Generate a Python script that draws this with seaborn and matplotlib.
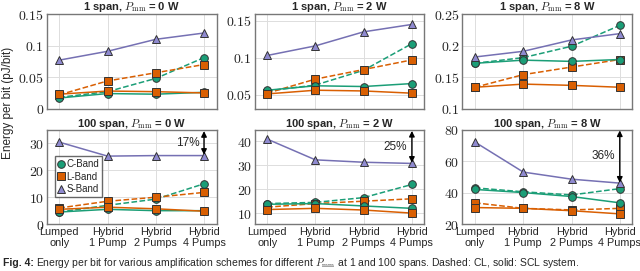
import pandas as pd
import matplotlib.pyplot as plt
import seaborn as sns
from matplotlib.ticker import FuncFormatter

schemes = ["Lumped\nonly", "Hybrid\n1 Pump", "Hybrid\n2 Pumps", "Hybrid\n4 Pumps"]
bands = ["C-Band", "L-Band", "S-Band"]

# 1 span, Pmm = 0 W
c_cl_1_0 = [0.018, 0.027, 0.048, 0.081]
l_cl_1_0 = [0.022, 0.044, 0.057, 0.070]
c_scl_1_0 = [0.017, 0.024, 0.023, 0.026]
l_scl_1_0 = [0.023, 0.028, 0.027, 0.025]
s_scl_1_0 = [0.077, 0.091, 0.110, 0.120]

# 1 span, Pmm = 2 W
c_cl_1_2 = [0.055, 0.063, 0.083, 0.119]
l_cl_1_2 = [0.052, 0.071, 0.084, 0.097]
c_scl_1_2 = [0.056, 0.062, 0.061, 0.065]
l_scl_1_2 = [0.051, 0.056, 0.055, 0.052]
s_scl_1_2 = [0.103, 0.116, 0.135, 0.145]

# 1 span, Pmm = 8 W
c_cl_1_8 = [0.172, 0.181, 0.199, 0.232]
l_cl_1_8 = [0.134, 0.154, 0.166, 0.178]
c_scl_1_8 = [0.172, 0.177, 0.175, 0.178]
l_scl_1_8 = [0.134, 0.139, 0.137, 0.134]
s_scl_1_8 = [0.182, 0.191, 0.209, 0.219]

# 100 span, Pmm = 0 W
c_cl_100_0 = [4.5, 7.0, 9.3, 15.0]
l_cl_100_0 = [6.0, 8.5, 10.0, 11.8]
c_scl_100_0 = [4.5, 5.5, 5.0, 5.0]
l_scl_100_0 = [5.5, 6.3, 5.7, 4.8]
s_scl_100_0 = [30.5, 25.3, 25.5, 25.5]

# 100 span, Pmm = 2 W
c_cl_100_2 = [14.0, 14.5, 16.5, 22.0]
l_cl_100_2 = [12.5, 14.0, 15.0, 16.0]
c_scl_100_2 = [13.7, 14.0, 13.0, 12.0]
l_scl_100_2 = [11.5, 12.0, 11.3, 10.0]
s_scl_100_2 = [41.0, 32.3, 31.3, 30.8]

# 100 span, Pmm = 8 W
c_cl_100_8 = [43.0, 40.5, 38.5, 42.5]
l_cl_100_8 = [33.5, 30.0, 29.0, 30.0]
c_scl_100_8 = [42.0, 40.0, 37.5, 33.5]
l_scl_100_8 = [30.5, 30.0, 28.5, 26.5]
s_scl_100_8 = [72.0, 53.0, 48.5, 46.0]

savings = ["17%", "25%", "36%"]

panels = [
    ("1 span", "0 W", c_cl_1_0, l_cl_1_0, c_scl_1_0, l_scl_1_0, s_scl_1_0),
    ("1 span", "2 W", c_cl_1_2, l_cl_1_2, c_scl_1_2, l_scl_1_2, s_scl_1_2),
    ("1 span", "8 W", c_cl_1_8, l_cl_1_8, c_scl_1_8, l_scl_1_8, s_scl_1_8),
    ("100 span", "0 W", c_cl_100_0, l_cl_100_0, c_scl_100_0, l_scl_100_0, s_scl_100_0),
    ("100 span", "2 W", c_cl_100_2, l_cl_100_2, c_scl_100_2, l_scl_100_2, s_scl_100_2),
    ("100 span", "8 W", c_cl_100_8, l_cl_100_8, c_scl_100_8, l_scl_100_8, s_scl_100_8),
]

ylims = [(0, 0.15), (0.031, 0.159), (0.1, 0.25), (0, 35.2), (5.4, 45), (20, 80)]
yticks = [[0, 0.05, 0.1, 0.15], [0.05, 0.1, 0.15], [0.1, 0.15, 0.2, 0.25],
          [0, 10, 20, 30], [10, 20, 30, 40], [20, 40, 60, 80]]
arrow_tops = [34.6, 44.4, 79.4]
label_y = [30.0, 37.8, 63.0]

colors = {"C-Band": "#1b9e77", "L-Band": "#d95f02", "S-Band": "#7570b3"}
fills = {"C-Band": "#1b9e77", "L-Band": "#d95f02", "S-Band": "#8f8ad0"}
markers = {"C-Band": "o", "L-Band": "s", "S-Band": "^"}

sns.set_style("white")
plt.rcParams["font.family"] = ["Liberation Sans", "DejaVu Sans"]
plt.rcParams["mathtext.fontset"] = "cm"

fig, axes = plt.subplots(2, 3, figsize=(6.4, 2.71), dpi=100)
fig.subplots_adjust(left=0.073, right=0.988, top=0.948, bottom=0.173,
                    wspace=0.224, hspace=0.22)

for i, (ax, p) in enumerate(zip(axes.flat, panels)):
    span, pmm, c_cl, l_cl, c_scl, l_scl, s_scl = p
    rows = []
    for band, system, vals in [("C-Band", "CL", c_cl), ("L-Band", "CL", l_cl),
                               ("C-Band", "SCL", c_scl), ("L-Band", "SCL", l_scl),
                               ("S-Band", "SCL", s_scl)]:
        for k, v in enumerate(vals):
            rows.append({"x": k, "y": v, "band": band, "system": system})
    df = pd.DataFrame(rows)
    for (band, system), sub in df.groupby(["band", "system"], sort=False):
        sns.lineplot(data=sub, x="x", y="y", ax=ax, color=colors[band],
                     linestyle="--" if system == "CL" else "-", lw=1.1,
                     marker=markers[band], markersize=5.5 if band != "S-Band" else 6,
                     markerfacecolor=fills[band], markeredgecolor="#333333",
                     markeredgewidth=0.7, label=band if system == "SCL" else None,
                     legend=False, zorder=3)
    ax.set_xlim(-0.26, 3.26)
    ax.set_ylim(*ylims[i])
    ax.set_yticks(yticks[i])
    ax.yaxis.set_major_formatter(FuncFormatter(lambda v, pos: f"${v:g}$"))
    ax.set_xticks(range(len(schemes)))
    if i >= 3:
        ax.set_xticklabels(schemes, fontsize=7.8, linespacing=1.1)
    else:
        ax.set_xticklabels([])
    ax.tick_params(axis="y", labelsize=10, pad=2, length=0)
    ax.tick_params(axis="x", pad=2, length=0)
    ax.grid(True, color="#dddddd", lw=0.7)
    for s in ax.spines.values():
        s.set_color("#777777")
        s.set_linewidth(1.0)
    ax.set_xlabel("")
    ax.set_ylabel("")
    ax.set_title(span + r", $P_{\mathrm{mm}}$ = " + pmm, fontsize=8,
                 fontweight="bold", pad=1.5)
    if i >= 3:
        j = i - 3
        ax.annotate("", xy=(3, arrow_tops[j]), xytext=(3, s_scl[-1] + 0.3),
                    arrowprops=dict(arrowstyle="<|-|>", color="black", lw=1.0,
                                    mutation_scale=8, shrinkA=0, shrinkB=0))
        ax.text(2.9, label_y[j], savings[j], ha="right", va="center", fontsize=8.5)

handles, labels = axes[1, 0].get_legend_handles_labels()
axes[1, 0].legend(handles, labels, loc="center left", bbox_to_anchor=(0.02, 0.5),
                  fontsize=7, frameon=True, fancybox=False, edgecolor="#444444",
                  handlelength=0.6, handletextpad=0.3, borderpad=0.3,
                  labelspacing=0.25)
for line in axes[1, 0].get_legend().get_lines():
    line.set_linestyle("none")

fig.text(0.012, 0.62, "Energy per bit (pJ/bit)", rotation=90, ha="center",
         va="center", fontsize=8.5)
fig.text(0.005, 0.03, "Fig. 4:", fontsize=7.5, fontweight="bold", va="center")
fig.text(0.057, 0.03, r"Energy per bit for various amplification schemes for different "
         r"$P_{\mathrm{mm}}$ at 1 and 100 spans. Dashed: CL, solid: SCL system.",
         fontsize=7.5, va="center")

plt.savefig("out.png", dpi=100)
